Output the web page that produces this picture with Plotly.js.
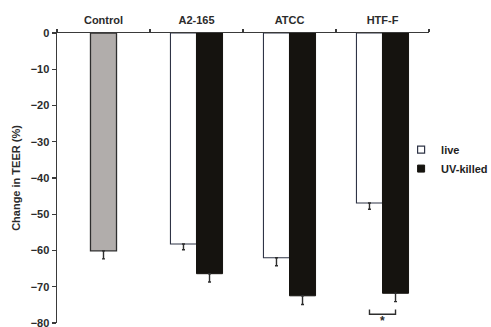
<!DOCTYPE html>
<html>
<head>
<meta charset="utf-8">
<script src="https://cdn.plot.ly/plotly-3.0.1.min.js"></script>
<style>
  html, body { margin: 0; padding: 0; background: #fff; }
  #chart { width: 491px; height: 327px; }
</style>
</head>
<body>
<div id="chart"></div>
<script>
// Change in transepithelial electrical resistance per strain
const categories = ['Control', 'A2-165', 'ATCC', 'HTF-F'];
const strains = ['A2-165', 'ATCC', 'HTF-F'];

const controlValue = [-60.1];
const controlErr = [2.2];

const liveValues = [-58.2, -62.0, -46.9];
const liveErr = [1.6, 2.2, 1.7];

const uvValues = [-66.4, -72.5, -71.8];
const uvErr = [2.3, 2.4, 2.3];

const BAR_W = 0.28;
const FONT = 'Liberation Sans, Arial, sans-serif';
const INK = '#2b2b2b';

function downErr(errs) {
  return {
    type: 'data', symmetric: false,
    array: errs.map(() => 0), arrayminus: errs,
    color: '#2e2e2e', thickness: 1.4, width: 1.5
  };
}

const liveStyle = { color: '#ffffff', line: { color: '#2f3446', width: 1.1 } };
const uvStyle = { color: '#15130f', line: { color: '#15130f', width: 1 } };

const traces = [
  {
    type: 'bar', name: 'Control', x: ['Control'], y: controlValue,
    width: BAR_W, offset: -BAR_W / 2, showlegend: false,
    marker: { color: '#b1adab', line: { color: '#2e2e2e', width: 1.3 } },
    error_y: downErr(controlErr)
  },
  {
    type: 'bar', name: 'live', x: strains, y: liveValues,
    width: BAR_W, offset: -BAR_W, showlegend: false,
    marker: liveStyle, error_y: downErr(liveErr)
  },
  {
    type: 'bar', name: 'UV-killed', x: strains, y: uvValues,
    width: BAR_W, offset: 0, showlegend: false,
    marker: uvStyle, error_y: downErr(uvErr)
  },
  // legend keys with small square swatches
  {
    type: 'scatter', mode: 'markers', name: 'live', x: [null], y: [null],
    marker: { symbol: 'square', size: 7, color: '#ffffff', line: { color: '#2f3446', width: 1.2 } }
  },
  {
    type: 'scatter', mode: 'markers', name: 'UV-killed', x: [null], y: [null],
    marker: { symbol: 'square', size: 7, color: '#15130f', line: { color: '#15130f', width: 1 } }
  }
];

// significance bracket between live and UV-killed HTF-F bars
const sigIdx = categories.indexOf('HTF-F');
const bx0 = sigIdx - BAR_W / 2, bx1 = sigIdx + BAR_W / 2;
const bTop = -76.3, bBot = -77.6;

const layout = {
  width: 491, height: 327,
  margin: { l: 57, r: 62, t: 33, b: 4, autoexpand: false },
  paper_bgcolor: '#ffffff', plot_bgcolor: '#ffffff',
  barmode: 'overlay',
  font: { family: FONT, size: 11, color: INK },
  xaxis: {
    type: 'category', categoryorder: 'array', categoryarray: categories,
    range: [-0.5, 3.5], side: 'top',
    showline: true, linecolor: '#3a3a3a', linewidth: 1.5,
    ticks: 'outside', tickson: 'boundaries', ticklen: 3, tickwidth: 1.3, tickcolor: '#3a3a3a',
    ticklabelstandoff: 3,
    tickfont: { family: FONT, size: 11, color: INK, weight: 'bold' },
    showgrid: false, zeroline: false, fixedrange: true
  },
  yaxis: {
    range: [-80, 0], dtick: 10,
    showline: true, linecolor: '#3a3a3a', linewidth: 1.5,
    ticks: 'outside', ticklen: 4, tickwidth: 1.3, tickcolor: '#3a3a3a',
    ticklabeloverflow: 'allow',
    tickfont: { family: FONT, size: 11, color: INK, weight: 'bold' },
    showgrid: false, zeroline: false, fixedrange: true,
    title: { text: 'Change in TEER (%)', standoff: 8,
      font: { family: FONT, size: 11, color: INK, weight: 'bold' } }
  },
  legend: {
    x: 0.925, xanchor: 'left', y: 0.648, yanchor: 'top',
    bgcolor: 'rgba(0,0,0,0)', tracegroupgap: 0, itemwidth: 30,
    font: { family: FONT, size: 11, color: '#1e1e1e', weight: 'bold' }
  },
  shapes: [
    {
      type: 'path', xref: 'x', yref: 'y',
      path: `M ${bx0} ${bTop} L ${bx0} ${bBot} L ${bx1} ${bBot} L ${bx1} ${bTop}`,
      line: { color: '#2e2e2e', width: 1.4 }
    }
  ],
  annotations: [
    {
      xref: 'x', yref: 'y', x: sigIdx, y: bBot, yanchor: 'top', yshift: 2,
      text: '*', showarrow: false,
      font: { family: FONT, size: 12, color: INK, weight: 'bold' }
    }
  ]
};

Plotly.newPlot('chart', traces, layout, { displayModeBar: false, staticPlot: true });
</script>
</body>
</html>
